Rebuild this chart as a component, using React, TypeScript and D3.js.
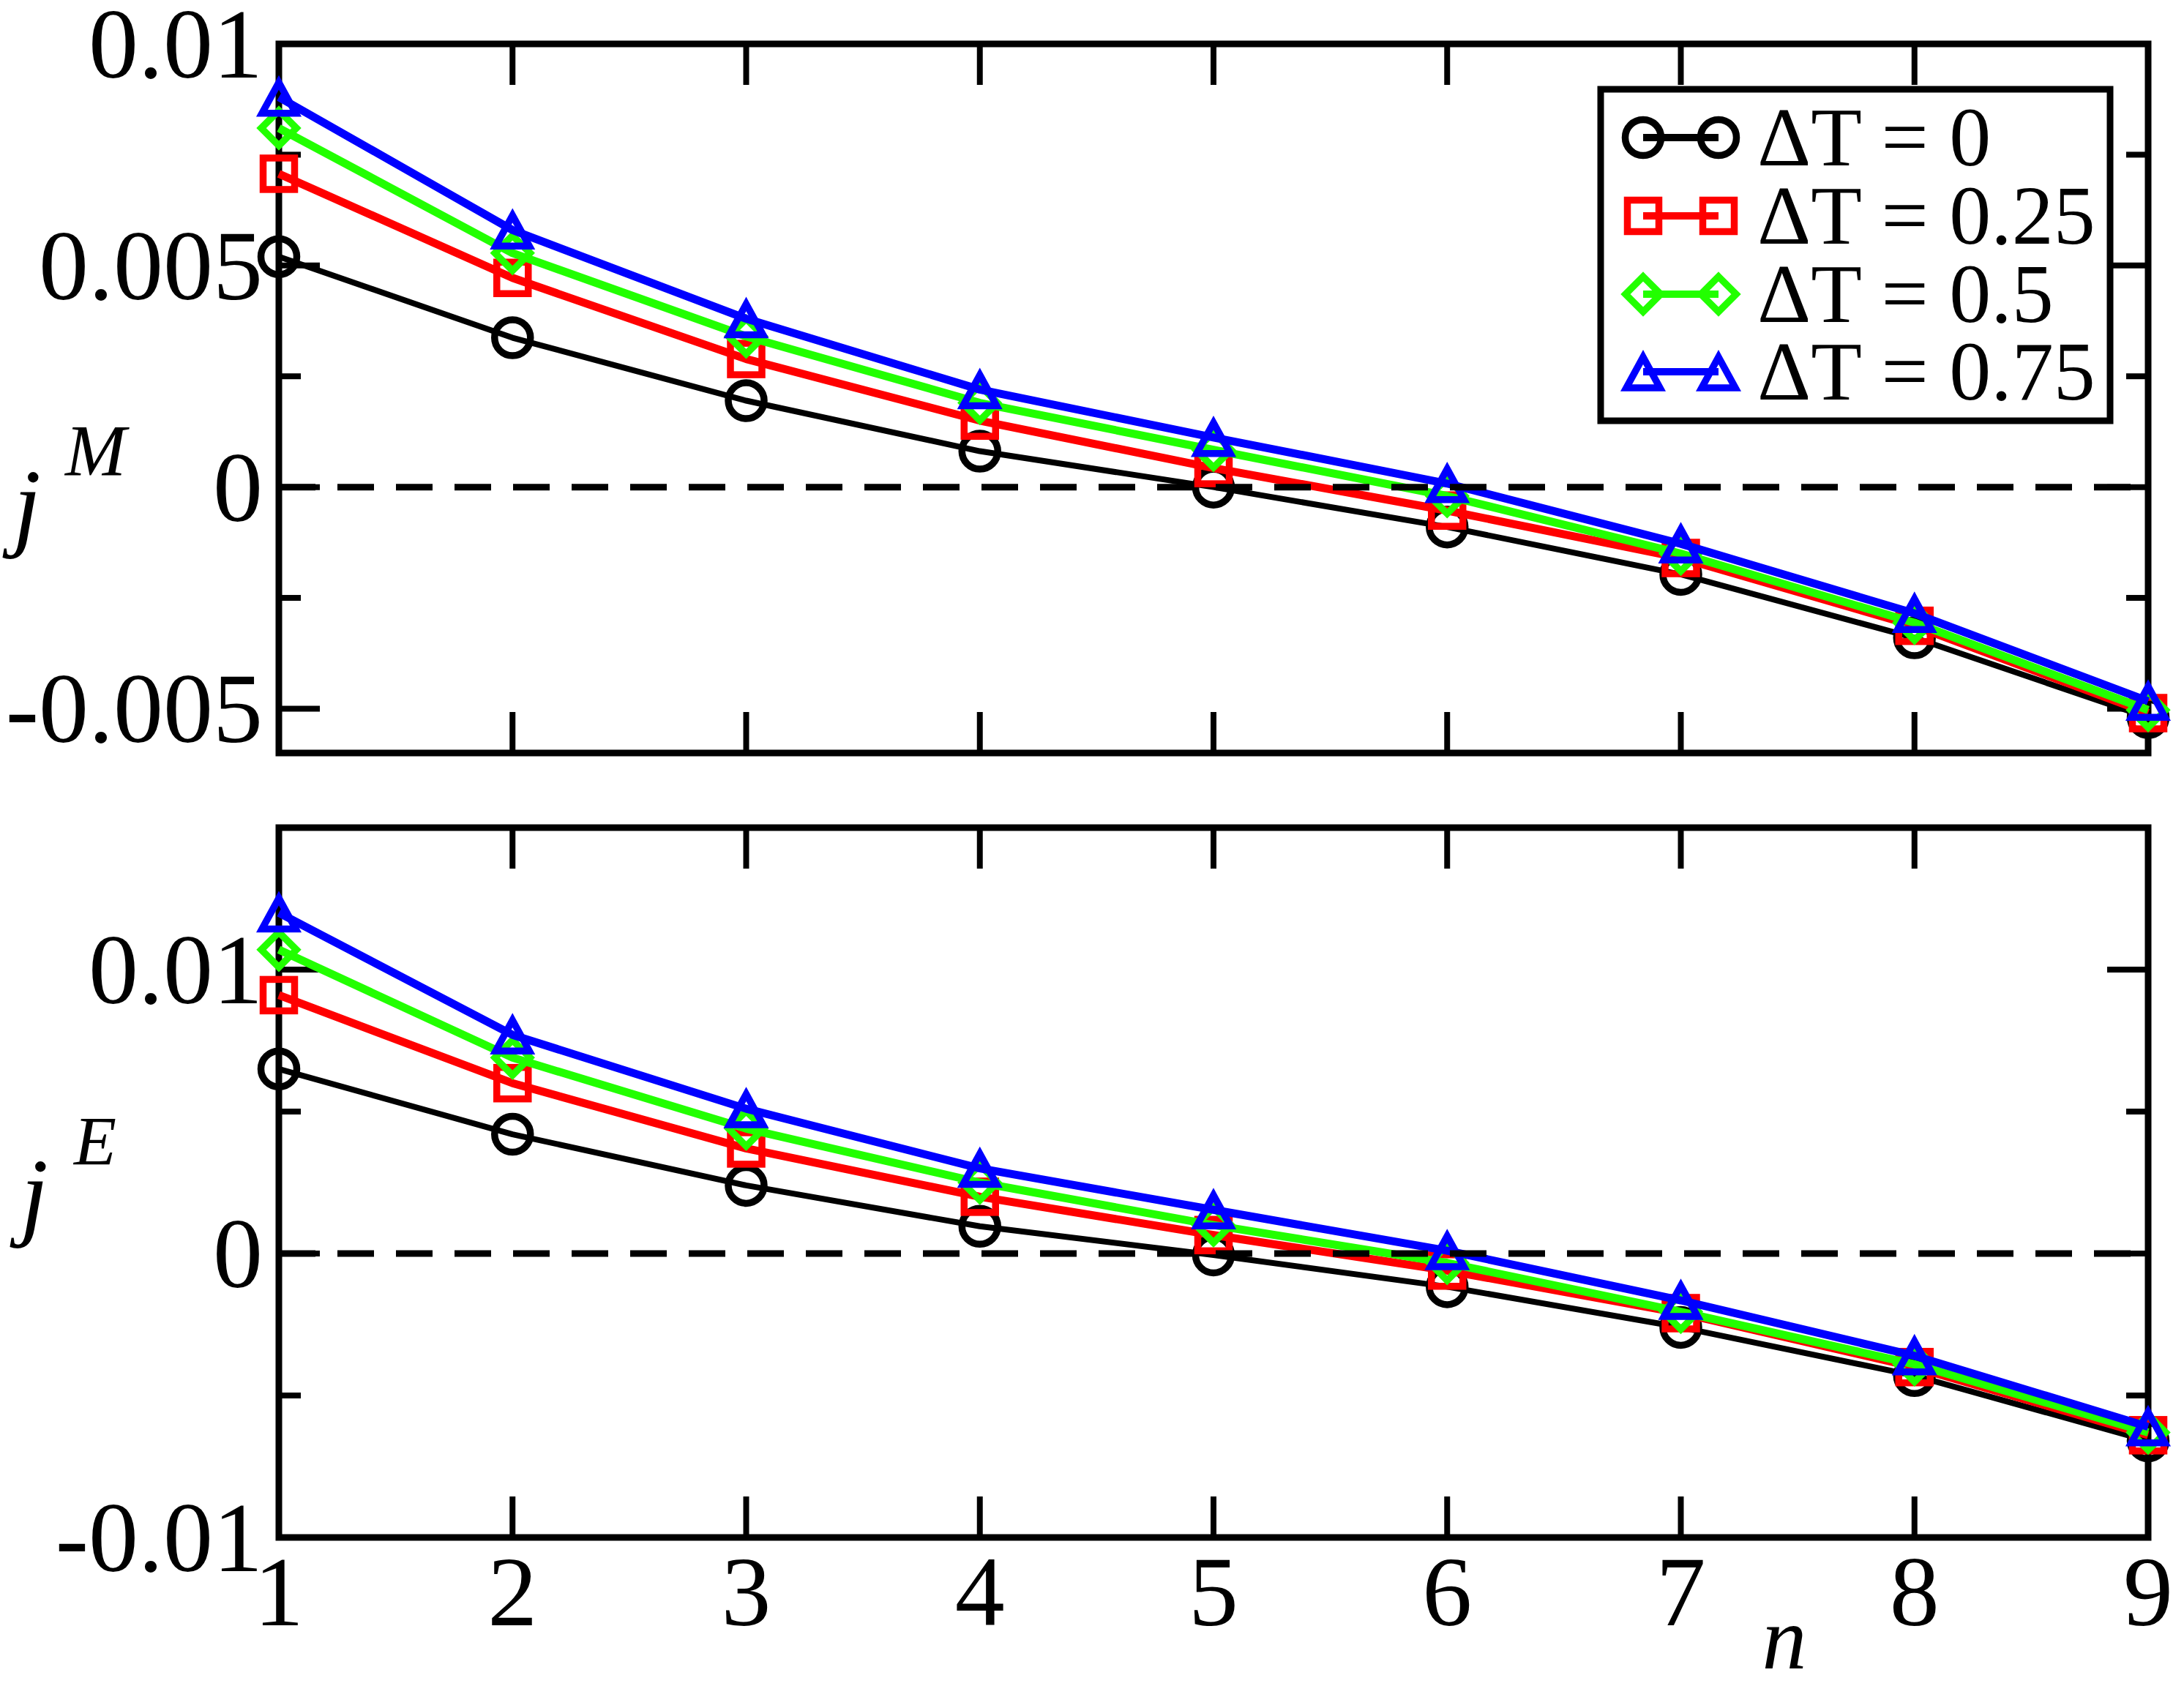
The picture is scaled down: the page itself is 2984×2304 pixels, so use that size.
import * as d3 from "d3";

// n = 1..9 along the chain
const nValues = [1, 2, 3, 4, 5, 6, 7, 8, 9];
const seriesLabels = ["ΔT = 0", "ΔT = 0.25", "ΔT = 0.5", "ΔT = 0.75"];

// upper panel, j^M
const jM_dT0 = [0.0052, 0.00337, 0.00195, 0.00081, 0.0, -0.0009, -0.00197, -0.0034, -0.0052];
const jM_dT025 = [0.00707, 0.00472, 0.00289, 0.0015, 0.00043, -0.00053, -0.0016, -0.00313, -0.0051];
const jM_dT05 = [0.0081, 0.00528, 0.0034, 0.0019, 0.00084, -0.0002, -0.0015, -0.00306, -0.00503];
const jM_dT075 = [0.0088, 0.0058, 0.0038, 0.0022, 0.00112, 0.00008, -0.00128, -0.00285, -0.00483];

// lower panel, j^E
const jE_dT0 = [0.0065, 0.0042, 0.0024, 0.00096, -0.00005, -0.00117, -0.0026, -0.0043, -0.0066];
const jE_dT025 = [0.0091, 0.006, 0.0037, 0.002, 0.00065, -0.0006, -0.0021, -0.004, -0.0064];
const jE_dT05 = [0.0107, 0.0069, 0.0044, 0.0025, 0.001, -0.00033, -0.00205, -0.0039, -0.0063];
const jE_dT075 = [0.012, 0.0077, 0.0051, 0.003, 0.00154, 0.0001, -0.00165, -0.0036, -0.0061];

const topMajor = [-0.005, 0, 0.005, 0.01];
const topMinor = [-0.0025, 0.0025, 0.0075];
const botMajor = [-0.01, 0, 0.01];
const botMinor = [-0.005, 0.005];

const COLORS = ["#000000", "#ff0000", "#22ff00", "#0000ff"];
const SYMBOLS = ["circle", "square", "diamond", "triangle"];
const LINE_W = [8, 11, 11, 11];
const FONT = "Liberation Serif, Times New Roman, serif";

const W = 2984;
const H = 2304;
const LEFT = 381;
const RIGHT = 2935;

const xScale = d3.scaleLinear().domain([1, 9]).range([LEFT, RIGHT]);

const txt = (size: number, italic = false) => ({
  fontFamily: FONT,
  fontSize: size,
  fontStyle: italic ? "italic" : "normal",
});

function Marker({ type, x, y, color }: { type: string; x: number; y: number; color: string }) {
  const common = { fill: "none", stroke: color, strokeWidth: 9.5, strokeLinejoin: "miter" as const };
  if (type === "circle") return <circle cx={x} cy={y} r={24.5} {...common} />;
  if (type === "square") return <rect x={x - 21.5} y={y - 21.5} width={43} height={43} {...common} />;
  if (type === "diamond")
    return <path d={`M${x},${y - 24}L${x + 24},${y}L${x},${y + 24}L${x - 24},${y}Z`} {...common} />;
  return <path d={`M${x},${y - 20}L${x + 23},${y + 22}L${x - 23},${y + 22}Z`} {...common} />;
}

type PanelProps = {
  top: number;
  bottom: number;
  domain: [number, number];
  major: number[];
  minor: number[];
  series: number[][];
  showX: boolean;
};

function Panel({ top, bottom, domain, major, minor, series, showX }: PanelProps) {
  const y = d3.scaleLinear().domain(domain).range([bottom, top]);
  const line = d3
    .line<number>()
    .x((_, i) => xScale(nValues[i]))
    .y((d) => y(d));
  const fmt = (v: number) => String(+v.toFixed(4));
  const MAJ = 56;
  const MIN = 30;
  return (
    <g>
      {/* ticks */}
      {nValues.map((n) => (
        <g key={"xt" + n} stroke="#000" strokeWidth={8}>
          <line x1={xScale(n)} x2={xScale(n)} y1={top} y2={top + MAJ} />
          <line x1={xScale(n)} x2={xScale(n)} y1={bottom} y2={bottom - MAJ} />
        </g>
      ))}
      {major.map((v) => (
        <g key={"ym" + v} stroke="#000" strokeWidth={8}>
          <line x1={LEFT} x2={LEFT + MAJ} y1={y(v)} y2={y(v)} />
          <line x1={RIGHT} x2={RIGHT - MAJ} y1={y(v)} y2={y(v)} />
        </g>
      ))}
      {minor.map((v) => (
        <g key={"yn" + v} stroke="#000" strokeWidth={8}>
          <line x1={LEFT} x2={LEFT + MIN} y1={y(v)} y2={y(v)} />
          <line x1={RIGHT} x2={RIGHT - MIN} y1={y(v)} y2={y(v)} />
        </g>
      ))}
      <rect x={LEFT} y={top} width={RIGHT - LEFT} height={bottom - top} fill="none" stroke="#000" strokeWidth={9} />
      {/* tick labels */}
      {major.map((v) => (
        <text key={"yl" + v} x={359} y={y(v) + 46} style={txt(136)} textAnchor="end">
          {fmt(v)}
        </text>
      ))}
      {showX &&
        nValues.map((n) => (
          <text key={"xl" + n} x={xScale(n)} y={bottom + 120} style={txt(136)} textAnchor="middle">
            {n}
          </text>
        ))}
      {/* data */}
      {series.map((vals, s) => (
        <g key={"s" + s}>
          <path d={line(vals) ?? ""} fill="none" stroke={COLORS[s]} strokeWidth={LINE_W[s]} strokeLinejoin="round" />
          {vals.map((v, i) => (
            <Marker key={i} type={SYMBOLS[s]} x={xScale(nValues[i])} y={y(v)} color={COLORS[s]} />
          ))}
        </g>
      ))}
      <line x1={LEFT} x2={RIGHT} y1={y(0)} y2={y(0)} stroke="#000" strokeWidth={9} strokeDasharray="50 30" />
    </g>
  );
}

function Legend() {
  const x0 = 2187;
  const y0 = 122;
  const rowY = [188, 295, 402, 508];
  return (
    <g>
      <rect x={x0} y={y0} width={696} height={453} fill="#fff" stroke="#000" strokeWidth={9} />
      {seriesLabels.map((lab, i) => (
        <g key={lab}>
          <line x1={2245} x2={2348} y1={rowY[i]} y2={rowY[i]} stroke={COLORS[i]} strokeWidth={10} />
          <Marker type={SYMBOLS[i]} x={2245} y={rowY[i]} color={COLORS[i]} />
          <Marker type={SYMBOLS[i]} x={2348} y={rowY[i]} color={COLORS[i]} />
          <text x={2401} y={rowY[i] + 38} style={txt(114)}>
            {lab}
          </text>
        </g>
      ))}
    </g>
  );
}

export default function App() {
  return (
    <svg width={W} height={H} style={{ position: "absolute", left: 0, top: 0, background: "#fff" }}>
      <rect width={W} height={H} fill="#fff" />
      <Panel
        top={60}
        bottom={1029}
        domain={[-0.006, 0.01]}
        major={topMajor}
        minor={topMinor}
        series={[jM_dT0, jM_dT025, jM_dT05, jM_dT075]}
        showX={false}
      />
      <Panel
        top={1131}
        bottom={2101}
        domain={[-0.01, 0.015]}
        major={botMajor}
        minor={botMinor}
        series={[jE_dT0, jE_dT025, jE_dT05, jE_dT075]}
        showX={true}
      />
      <Legend />
      {/* axis titles */}
      <text x={18} y={735} style={txt(136, true)}>j</text>
      <text x={89} y={649} style={txt(100, true)}>M</text>
      <text x={28} y={1677} style={txt(136, true)}>j</text>
      <text x={101} y={1592} style={txt(95, true)}>E</text>
      <text x={2438} y={2280} style={txt(122, true)} textAnchor="middle">n</text>
    </svg>
  );
}
